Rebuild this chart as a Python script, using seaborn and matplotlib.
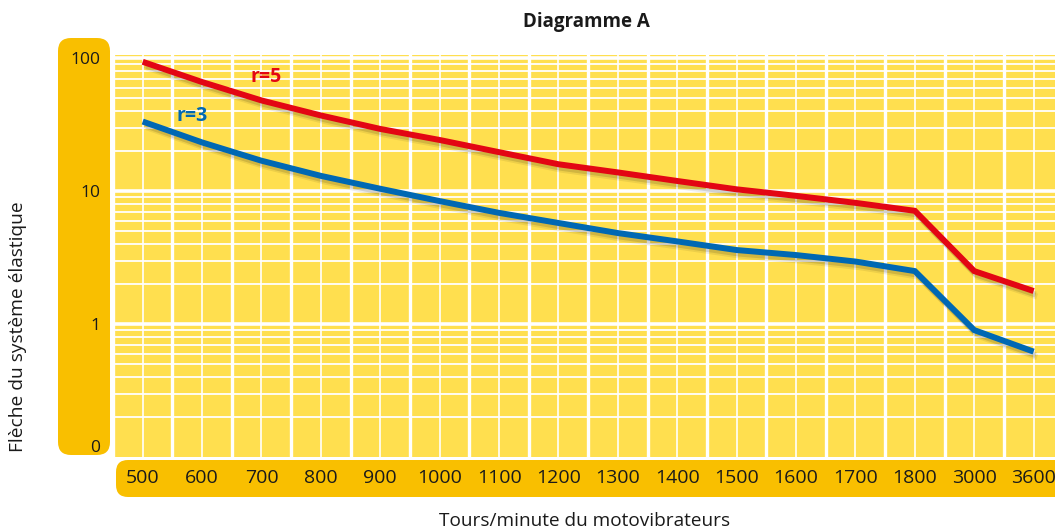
import numpy as np
import pandas as pd
import matplotlib
matplotlib.use("Agg")
import matplotlib.pyplot as plt
import matplotlib.patheffects as pe
import matplotlib.transforms as mtransforms
from matplotlib.patches import FancyBboxPatch
from matplotlib.ticker import FixedLocator, LogLocator, NullFormatter
import seaborn as sns

# === DATA ===
rpm_labels = ["500", "600", "700", "800", "900", "1000", "1100", "1200",
              "1300", "1400", "1500", "1600", "1700", "1800", "3000", "3600"]
fleche_r5 = [93.7, 66.0, 48.0, 37.0, 29.3, 24.2, 19.6, 15.9,
             13.8, 11.9, 10.3, 9.2, 8.15, 7.1, 2.5, 1.77]
fleche_r3 = [33.3, 23.2, 16.9, 13.0, 10.4, 8.4, 6.85, 5.75,
             4.83, 4.18, 3.6, 3.3, 2.95, 2.5, 0.9, 0.62]
series_names = ["r=5", "r=3"]
y_ticks = [0.1, 1, 10, 100]
y_tick_labels = ["0", "1", "10", "100"]

# === STYLE ===
BG_YELLOW = "#FFDF4F"
BOX_YELLOW = "#F9BF00"
RED = "#E30613"
BLUE = "#0068B3"
TEXT = "#1A1A1A"

sns.set_style("white")
plt.rcParams["font.family"] = ["Open Sans", "DejaVu Sans"]

df = pd.DataFrame({
    "pos": list(range(len(rpm_labels))) * 2,
    "fleche": fleche_r5 + fleche_r3,
    "serie": [series_names[0]] * len(fleche_r5) + [series_names[1]] * len(fleche_r3),
})

W, H = 1055, 531
fig = plt.figure(figsize=(W / 100, H / 100), dpi=100)
ax = fig.add_axes([113 / W, (H - 457) / H, (W - 113) / W, 402 / H])
ax.set_facecolor(BG_YELLOW)

# rounded label boxes behind the axes (pixel coords -> inches)
fig.patches.append(FancyBboxPatch((0.58, 0.76), 0.52, 4.17,
                                  boxstyle="round,pad=0,rounding_size=0.13",
                                  transform=fig.dpi_scale_trans, fc=BOX_YELLOW,
                                  ec="none", zorder=-1))
fig.patches.append(FancyBboxPatch((1.16, 0.34), 9.7, 0.37,
                                  boxstyle="round,pad=0,rounding_size=0.12",
                                  transform=fig.dpi_scale_trans, fc=BOX_YELLOW,
                                  ec="none", zorder=-1))

sns.lineplot(data=df, x="pos", y="fleche", hue="serie",
             palette={series_names[0]: RED, series_names[1]: BLUE},
             linewidth=4.3, legend=False, ax=ax, zorder=5)
for line in ax.lines:
    line.set_solid_capstyle("butt")
    line.set_solid_joinstyle("miter")
    line.set_path_effects([
        pe.SimpleLineShadow(offset=(2.5, -4), shadow_color="black", alpha=0.07),
        pe.SimpleLineShadow(offset=(1.5, -2.5), shadow_color="black", alpha=0.12),
        pe.Normal(),
    ])

ax.set_yscale("log")
ax.set_ylim(0.1, 105.4)
ax.set_xlim(-0.5, 15.36)

# x: categories (thin lines) and boundaries (thick lines)
ax.set_xticks(range(len(rpm_labels)))
ax.set_xticklabels(rpm_labels)
ax.xaxis.set_minor_locator(FixedLocator(np.arange(-0.5, len(rpm_labels), 1.0)))
ax.set_yticks(y_ticks)
ax.set_yticklabels(y_tick_labels)
ax.yaxis.set_minor_locator(LogLocator(base=10, subs=np.arange(2, 10)))
ax.yaxis.set_minor_formatter(NullFormatter())

ax.grid(which="major", axis="x", color="white", linewidth=1.2)
ax.grid(which="minor", axis="x", color="white", linewidth=2.4)
ax.grid(which="major", axis="y", color="white", linewidth=2.6)
ax.grid(which="minor", axis="y", color="white", linewidth=1.3)
ax.set_axisbelow(True)
ax.get_ygridlines()[0].set_visible(False)

for s in ax.spines.values():
    s.set_visible(False)
ax.tick_params(which="both", length=0)
ax.tick_params(axis="y", pad=9, labelsize=12.5, labelcolor=TEXT)
ax.tick_params(axis="x", pad=8.5, labelsize=14, labelcolor=TEXT)

# the "0" label sits a bit above the bottom edge
zero_lbl = ax.yaxis.get_majorticklabels()[0]
zero_lbl.set_transform(zero_lbl.get_transform() +
                       mtransforms.ScaledTranslation(0, 0.11, fig.dpi_scale_trans))

ax.set_xlabel("Tours/minute du motovibrateurs", fontsize=13.7, color=TEXT, va="center")
ax.xaxis.set_label_coords(0.501, -0.159)
ax.set_ylabel("Flèche du système élastique", fontsize=13.8, color=TEXT, va="center")
ax.yaxis.set_label_coords(-0.1005, 0.325)

fig.text(586 / W, 1 - 22 / H, "Diagramme A", ha="center", va="center",
         fontsize=13.5, fontweight="bold", color=TEXT)

ax.text(2.07, 72, series_names[0], color=RED, fontsize=14, fontweight="bold",
        ha="center", va="center")
ax.text(0.84, 36.6, series_names[1], color=BLUE, fontsize=14, fontweight="bold",
        ha="center", va="center")

fig.savefig("out.png", dpi=100)
